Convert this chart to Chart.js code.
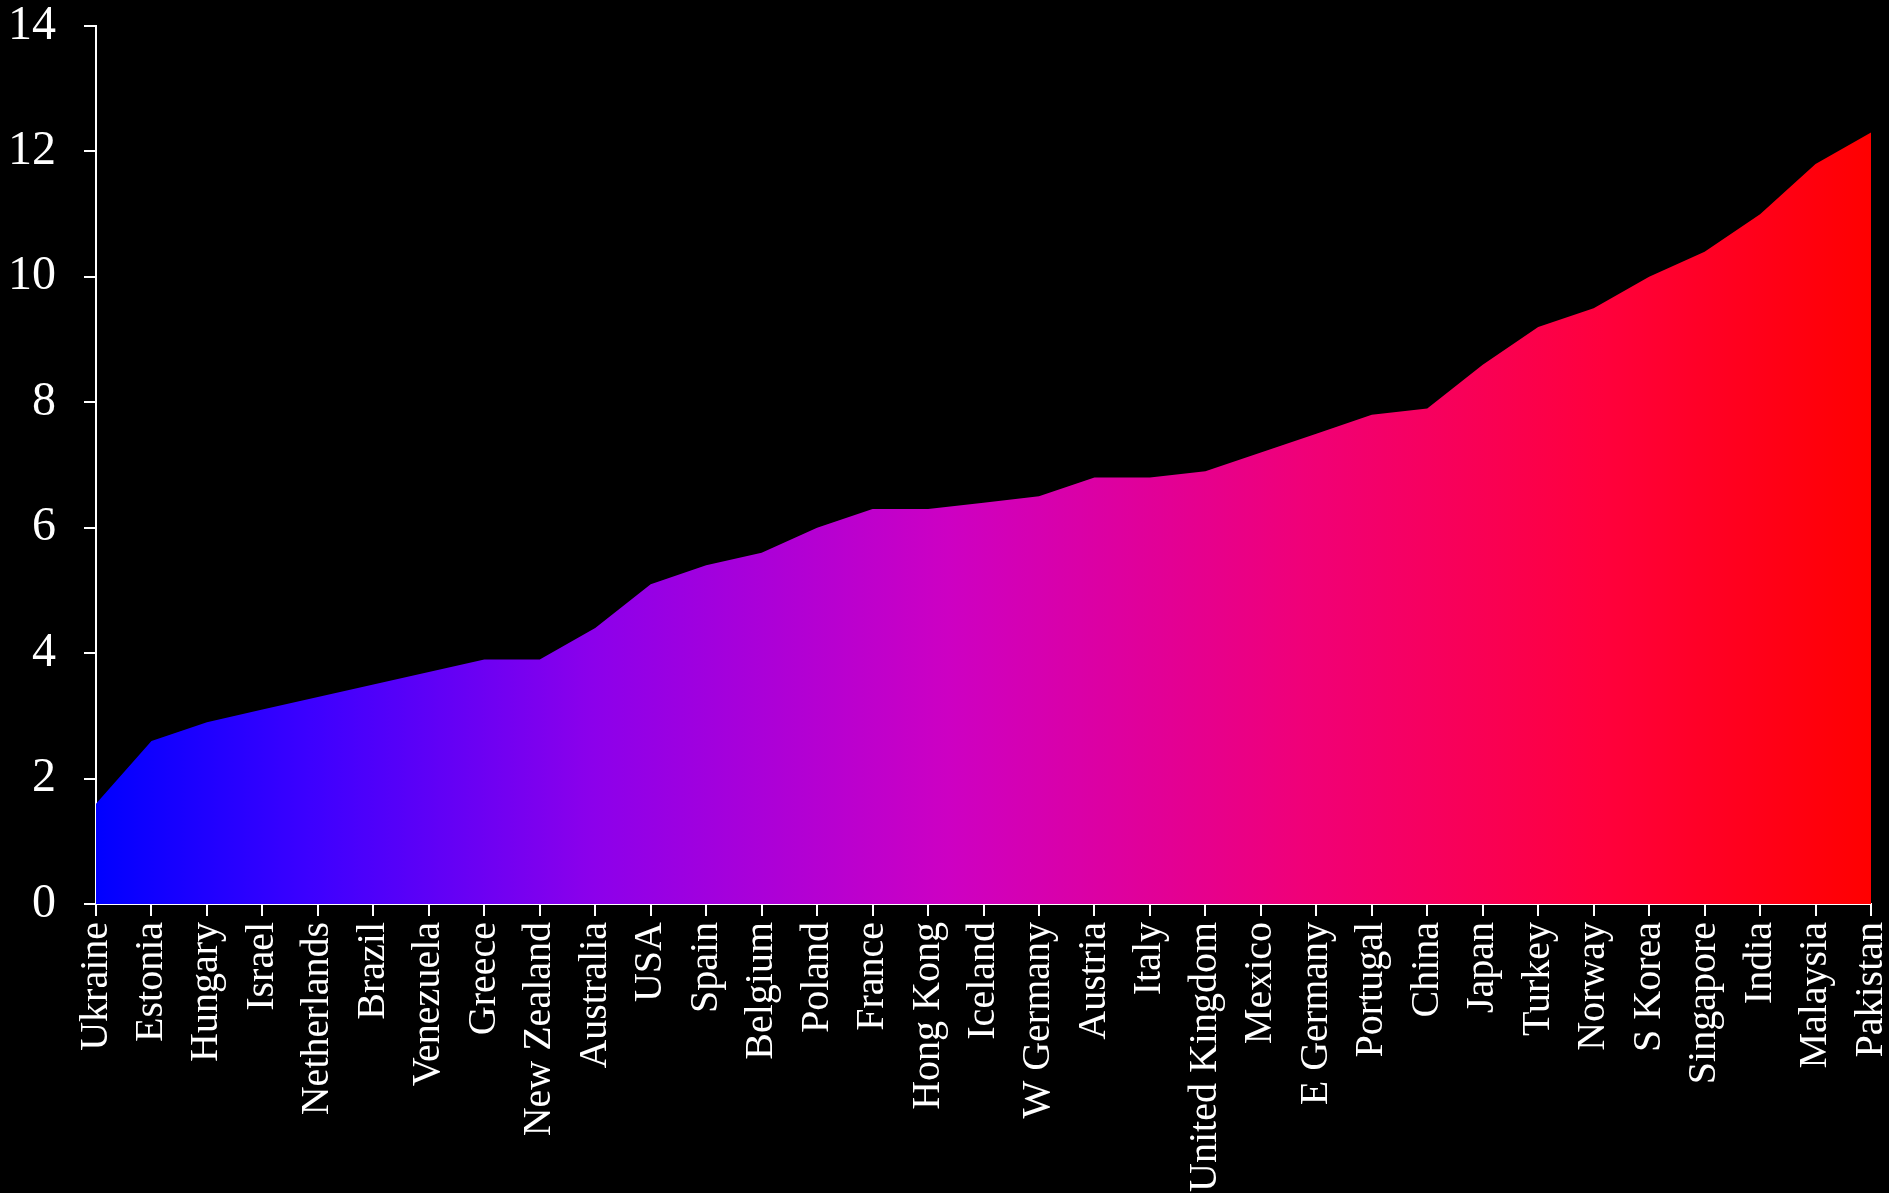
<!DOCTYPE html>
<html>
<head>
<meta charset="utf-8">
<script src="https://cdn.jsdelivr.net/npm/chart.js@4/dist/chart.umd.min.js"></script>
<style>
  html, body { margin: 0; padding: 0; background: #000; }
  #wrap { width: 1889px; height: 1193px; }
</style>
</head>
<body>
<div id="wrap"><canvas id="grafico" width="1889" height="1193"></canvas></div>
<script>
const countries = ["Ukraine", "Estonia", "Hungary", "Israel", "Netherlands", "Brazil", "Venezuela",
  "Greece", "New Zealand", "Australia", "USA", "Spain", "Belgium", "Poland", "France", "Hong Kong",
  "Iceland", "W Germany", "Austria", "Italy", "United Kingdom", "Mexico", "E Germany", "Portugal",
  "China", "Japan", "Turkey", "Norway", "S Korea", "Singapore", "India", "Malaysia", "Pakistan"];
const values = [1.6, 2.6, 2.9, 3.1, 3.3, 3.5, 3.7, 3.9, 3.9, 4.4, 5.1, 5.4, 5.6, 6.0, 6.3, 6.3,
  6.4, 6.5, 6.8, 6.8, 6.9, 7.2, 7.5, 7.8, 7.9, 8.6, 9.2, 9.5, 10.0, 10.4, 11.0, 11.8, 12.3];
const yTicks = [0, 2, 4, 6, 8, 10, 12, 14];

const fontFamily = "'Liberation Serif', 'DejaVu Serif', serif";

// blue -> violet -> magenta -> red
const gradientStops = [
  [0, "rgb(0,0,255)"],
  [0.12, "rgb(60,0,255)"],
  [0.28, "rgb(140,0,235)"],
  [0.48, "rgb(205,0,195)"],
  [0.68, "rgb(240,0,120)"],
  [0.85, "rgb(255,0,60)"],
  [1, "rgb(255,0,0)"]
];

function gradientFill(context) {
  const chart = context.chart;
  const area = chart.chartArea;
  if (!area) return "rgb(0,0,255)";
  const g = chart.ctx.createLinearGradient(area.left, 0, area.right, 0);
  gradientStops.forEach(s => g.addColorStop(s[0], s[1]));
  return g;
}

document.addEventListener("DOMContentLoaded", function () {
  const ctx = document.getElementById("grafico").getContext("2d");
  new Chart(ctx, {
    type: "line",
    data: {
      labels: countries,
      datasets: [{
        data: values,
        fill: "origin",
        backgroundColor: gradientFill,
        borderWidth: 0,
        pointRadius: 0,
        tension: 0
      }]
    },
    options: {
      responsive: false,
      animation: false,
      layout: { padding: { top: 26, right: 18, left: 0, bottom: 0 } },
      plugins: { legend: { display: false }, tooltip: { enabled: false } },
      scales: {
        x: {
          offset: false,
          border: { color: "#ffffff", width: 2 },
          grid: { drawOnChartArea: false, color: "#ffffff", tickLength: 12, lineWidth: 2 },
          ticks: {
            color: "#ffffff",
            font: { family: fontFamily, size: 40 },
            minRotation: 90,
            maxRotation: 90,
            autoSkip: false,
            padding: 6
          },
          afterFit: function (scale) {
            scale.height = 289;
            scale.paddingLeft = 0;
            scale.paddingRight = 0;
          }
        },
        y: {
          min: 0,
          max: 14,
          border: { color: "#ffffff", width: 2 },
          grid: { drawOnChartArea: false, color: "#ffffff", tickLength: 12, lineWidth: 2 },
          afterBuildTicks: function (scale) {
            scale.ticks = yTicks.map(v => ({ value: v }));
          },
          ticks: {
            color: "#ffffff",
            font: { family: fontFamily, size: 48 },
            padding: 28
          },
          afterFit: function (scale) {
            scale.width = 96;
            scale.paddingTop = 0;
            scale.paddingBottom = 0;
          }
        }
      }
    }
  });
});
</script>
</body>
</html>
